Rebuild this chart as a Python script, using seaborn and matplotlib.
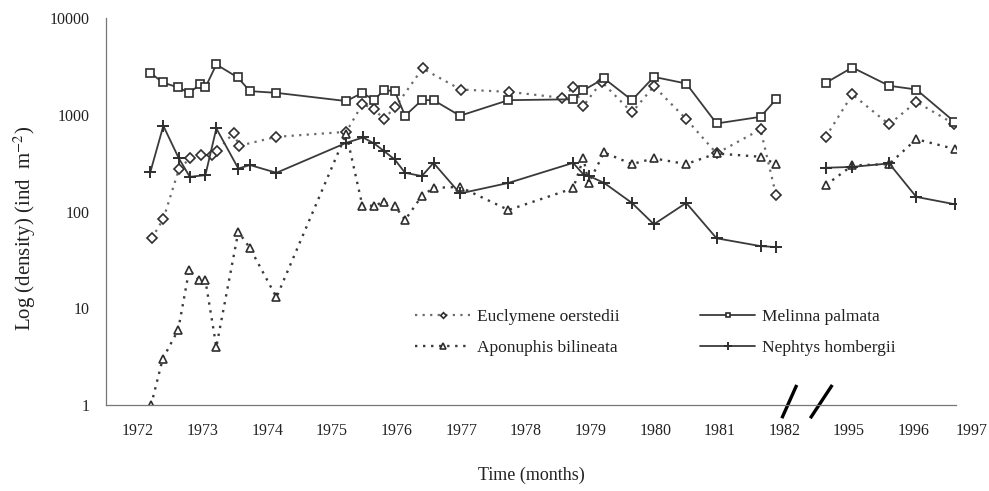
import numpy as np
import pandas as pd
import matplotlib
matplotlib.use("Agg")
import matplotlib.pyplot as plt
import matplotlib.transforms as mtransforms
import seaborn as sns

# ---------------- data (decimal years, density ind m-2) ----------------
mel_years = [1972.19, 1972.38, 1972.62, 1972.79, 1972.96, 1973.04, 1973.21, 1973.54, 1973.73,
             1974.14, 1975.22, 1975.47, 1975.65, 1975.80, 1975.97, 1976.13, 1976.39, 1976.57,
             1976.98, 1977.73, 1978.73, 1978.89, 1979.21, 1979.64, 1979.98, 1980.48, 1980.95,
             1981.63, 1981.87, 1994.64, 1995.05, 1995.62, 1996.04, 1996.63]
mel_vals = [2720, 2165, 1920, 1690, 2065, 1920, 3320, 2440, 1760,
            1690, 1390, 1690, 1420, 1800, 1760, 980, 1420, 1420,
            980, 1420, 1450, 1800, 2380, 1420, 2470, 2110, 815,
            955, 1445, 2145, 3090, 2000, 1830, 850]

euc_years = [1972.21, 1972.39, 1972.63, 1972.80, 1972.98, 1973.14, 1973.22, 1973.48, 1973.56,
             1974.14, 1975.22, 1975.47, 1975.65, 1975.80, 1975.98, 1976.40, 1976.99, 1977.74,
             1978.56, 1978.73, 1978.89, 1979.17, 1979.64, 1979.98, 1980.48, 1980.95, 1981.63,
             1981.87, 1994.64, 1995.05, 1995.62, 1996.04, 1996.63]
euc_vals = [53, 84, 273, 355, 384, 384, 425, 653, 479,
            593, 668, 1290, 1155, 904, 1210, 3020, 1830, 1730,
            1500, 1920, 1240, 2200, 1060, 1980, 904, 400, 707,
            148, 593, 1627, 797, 1364, 802]

apo_years = [1972.20, 1972.38, 1972.62, 1972.79, 1972.94, 1973.04, 1973.21, 1973.55, 1973.73,
             1974.14, 1975.22, 1975.47, 1975.65, 1975.80, 1975.97, 1976.13, 1976.39, 1976.57,
             1976.98, 1977.73, 1978.73, 1978.89, 1978.97, 1979.21, 1979.64, 1979.98, 1980.48,
             1980.95, 1981.63, 1981.87, 1994.64, 1995.05, 1995.62, 1996.04, 1996.64]
apo_vals = [1, 3, 6, 25, 19.6, 19.6, 4, 62, 42,
            13, 640, 115, 115, 126, 115, 82, 145, 176,
            180, 104, 174, 355, 198, 409, 310, 355, 310,
            399, 369, 310, 188, 300, 310, 561, 443]

nep_years = [1972.19, 1972.39, 1972.63, 1972.80, 1973.04, 1973.21, 1973.55, 1973.73, 1974.14,
             1975.22, 1975.48, 1975.65, 1975.80, 1975.97, 1976.13, 1976.39, 1976.57, 1976.98,
             1977.73, 1978.73, 1978.90, 1978.98, 1979.21, 1979.64, 1979.98, 1980.48, 1980.95,
             1981.63, 1981.87, 1994.64, 1995.05, 1995.62, 1996.04, 1996.64]
nep_vals = [258, 771, 355, 229, 238, 724, 279, 303, 252,
            514, 584, 507, 425, 346, 252, 233, 319, 154,
            198, 319, 238, 233, 198, 123, 74, 123, 53,
            44, 43, 284, 290, 315, 142, 119]

year_ticks = [1972, 1973, 1974, 1975, 1976, 1977, 1978, 1979, 1980, 1981, 1982, 1995, 1996, 1997]
GAP = 12  # years removed by the axis break (1983-1994)


def to_axis(y):
    y = np.asarray(y, dtype=float)
    return np.where(y > 1990, y - GAP, y)


series = [
    ("Euclymene oerstedii", euc_years, euc_vals, dict(marker="D", ms=4.8, ls=(0, (1, 2.4)), color="#6a6a6a", lw=1.6)),
    ("Aponuphis bilineata", apo_years, apo_vals, dict(marker="^", ms=6.4, ls=(0, (1, 2.4)), color="#3a3a3a", lw=1.7)),
    ("Melinna palmata", mel_years, mel_vals, dict(marker="s", ms=6.0, ls="-", color="#3a3a3a", lw=1.3)),
    ("Nephtys hombergii", nep_years, nep_vals, dict(marker="+", ms=8.5, ls="-", color="#3a3a3a", lw=1.3)),
]

rows = []
for name, yrs, vals, _ in series:
    for yr, v in zip(yrs, vals):
        rows.append(dict(species=name, year=yr, x=float(to_axis(yr)), density=v,
                         period="early" if yr < 1990 else "late"))
df = pd.DataFrame(rows)

sns.set_style("white")
plt.rcParams["font.family"] = ["Liberation Serif", "DejaVu Serif"]
plt.rcParams["mathtext.fontset"] = "stix"

fig = plt.figure(figsize=(9.89, 4.91), dpi=100)
ax = fig.add_axes([0.107, 0.175, 0.860, 0.788])

handles = {}
for name, _, _, st in series:
    for per in ["early", "late"]:
        sub = df[(df.species == name) & (df.period == per)]
        sns.lineplot(data=sub, x="x", y="density", ax=ax, estimator=None, sort=False,
                     color=st["color"], linestyle=st["ls"], linewidth=st["lw"],
                     marker=st["marker"], markersize=st["ms"],
                     markerfacecolor="white" if st["marker"] != "+" else st["color"],
                     markeredgecolor="#2e2e2e", markeredgewidth=1.2 if st["marker"] != "+" else 1.4,
                     legend=False)
        handles[name] = ax.lines[-1]

ax.set_yscale("log")
ax.set_ylim(1, 10000)
ax.set_xlim(1971.5, 1984.66)

ax.set_yticks([1, 10, 100, 1000, 10000])
ax.set_yticklabels(["1", "10", "100", "1000", "10000"])
ax.yaxis.set_minor_locator(matplotlib.ticker.LogLocator(base=10, subs=np.arange(2, 10)))
ax.yaxis.set_minor_formatter(matplotlib.ticker.NullFormatter())

pos = to_axis(year_ticks)
in_range = [(p, str(y)) for p, y in zip(pos, year_ticks) if p <= 1984.66]
ax.set_xticks([p for p, _ in in_range])
ax.set_xticklabels([l for _, l in in_range])
ax.set_xticks(np.arange(1971.5, 1984.6, 1.0), minor=True)

ax.tick_params(axis="x", which="both", direction="out", length=4, width=0.8, color="#666",
               labelsize=11.5, pad=9, labelcolor="#222")
ax.tick_params(axis="y", which="major", direction="inout", length=8, width=0.8, color="#666",
               labelsize=11.5, pad=8, labelcolor="#222")
ax.tick_params(axis="y", which="minor", direction="in", length=3, width=0.6, color="#888")

# 1997 label beyond the axis end
trans = mtransforms.blended_transform_factory(ax.transData, ax.transAxes)
ax.text(float(to_axis(1997)) - 0.1, -0.066, "1997", transform=trans, ha="center", va="center",
        fontsize=11.5, color="#222", clip_on=False)

for s in ["top", "right"]:
    ax.spines[s].set_visible(False)
for s in ["left", "bottom"]:
    ax.spines[s].set_color("#777")
    ax.spines[s].set_linewidth(0.9)

ax.set_xlabel("Time (months)", fontsize=13, color="#222", labelpad=20)
ax.set_ylabel("Log (density) (ind  m$^{-2}$)", fontsize=15, color="#222")
ax.yaxis.set_label_coords(-0.080, 0.457)

# axis break marks
for x0, x1 in [(1981.96, 1982.19), (1982.40, 1982.74)]:
    ax.plot([x0, x1], [-0.034, 0.052], transform=trans, color="black", lw=2.4,
            clip_on=False, solid_capstyle="butt")

order = ["Euclymene oerstedii", "Aponuphis bilineata", "Melinna palmata", "Nephtys hombergii"]
leg = ax.legend([handles[n] for n in order], order, ncol=2, frameon=False,
                loc="upper left", bbox_to_anchor=(0.345, 0.29),
                fontsize=12.5, handlelength=3.2, handletextpad=0.4,
                columnspacing=4.6, labelspacing=0.9, markerscale=0.6)
for t in leg.get_texts():
    t.set_color("#222")

fig.savefig("out.png", dpi=100)
